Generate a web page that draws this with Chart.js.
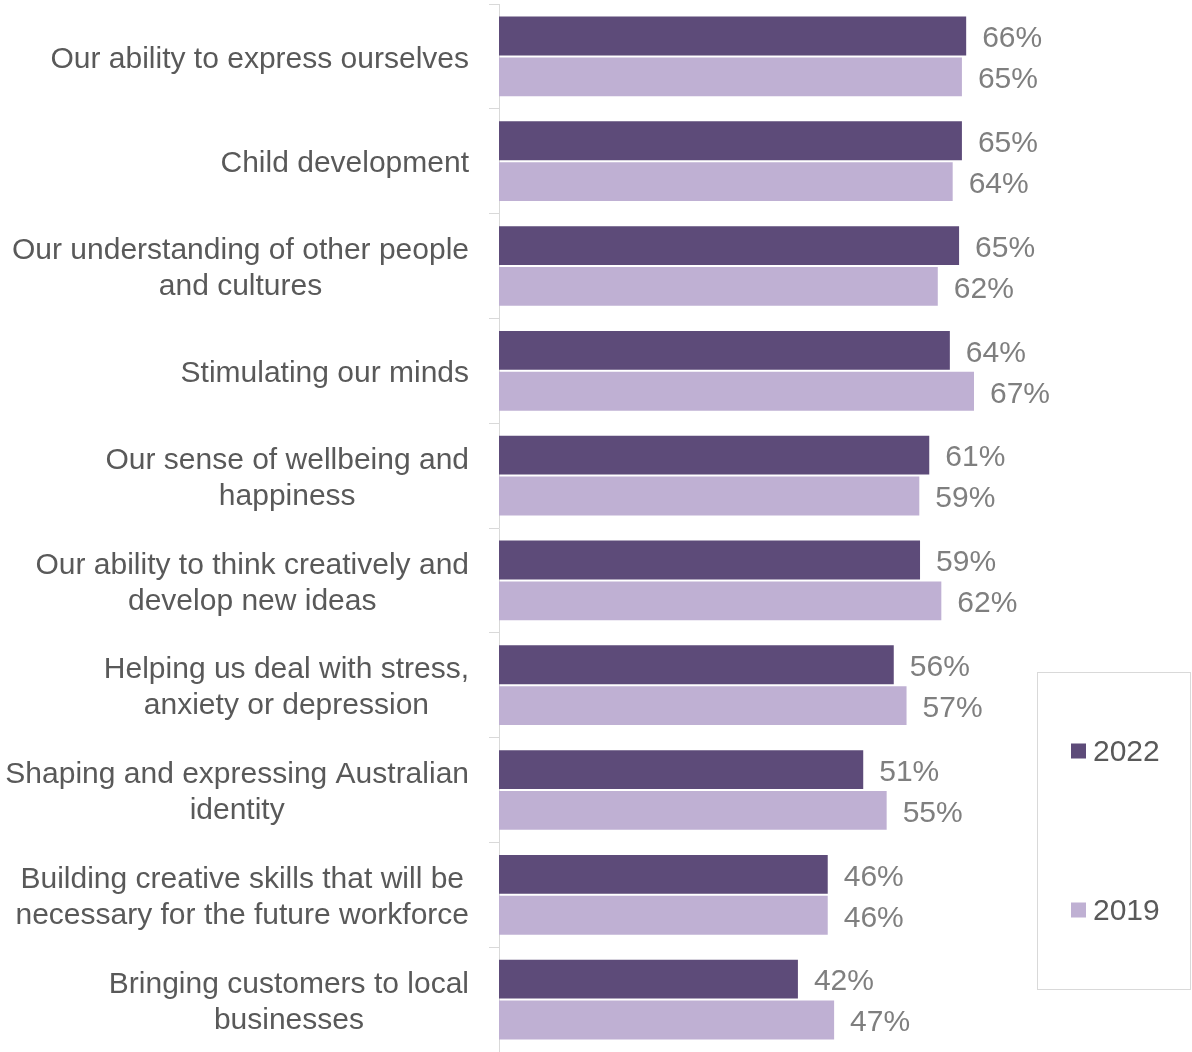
<!DOCTYPE html>
<html>
<head>
<meta charset="utf-8">
<script src="https://cdn.jsdelivr.net/npm/chart.js@4/dist/chart.umd.min.js"></script>
<style>
  html, body { margin: 0; padding: 0; background: #ffffff; }
  #wrap { position: relative; width: 1192px; height: 1052px; }
</style>
</head>
<body>
<div id="wrap"><canvas id="c" width="1192" height="1052"></canvas></div>
<script>
const categories = [
  ["Our ability to express ourselves"],
  ["Child development"],
  ["Our understanding of other people", "and cultures"],
  ["Stimulating our minds"],
  ["Our sense of wellbeing and", "happiness"],
  ["Our ability to think creatively and", "develop new ideas"],
  ["Helping us deal with stress,", "anxiety or depression"],
  ["Shaping and expressing Australian", "identity"],
  ["Building creative skills that will be", "necessary for the future workforce"],
  ["Bringing customers to local", "businesses"]
];
const seriesNames = ["2022", "2019"];
const values2022 = [65.8, 65.2, 64.8, 63.5, 60.6, 59.3, 55.6, 51.3, 46.3, 42.1];
const values2019 = [65.2, 63.9, 61.8, 66.9, 59.2, 62.3, 57.4, 54.6, 46.3, 47.2];
const seriesColors = ["#5d4b79", "#bfb0d3"];

const FONT = "'Liberation Sans', Arial, sans-serif";
const FS = 30;

const catLabelPlugin = {
  id: 'catLabels',
  afterDraw(chart) {
    const ctx = chart.ctx;
    const y = chart.scales.y;
    ctx.save();
    ctx.font = FS + "px " + FONT;
    ctx.fillStyle = "#595959";
    ctx.textBaseline = "middle";
    ctx.textAlign = "center";
    const lh = 36;
    chart.data.labels.forEach((lab, i) => {
      const lines = Array.isArray(lab) ? lab : [lab];
      const w = Math.max(...lines.map(l => ctx.measureText(l).width));
      const cx = 469 - w / 2;
      const cy = y.getPixelForTick(i) + 3;
      const start = cy - (lines.length - 1) * lh / 2;
      lines.forEach((l, k) => ctx.fillText(l, cx, start + k * lh));
    });
    ctx.restore();
  }
};

const valueLabelPlugin = {
  id: 'valueLabels',
  afterDatasetsDraw(chart) {
    const ctx = chart.ctx;
    ctx.save();
    ctx.font = FS + "px " + FONT;
    ctx.fillStyle = "#7f7f7f";
    ctx.textBaseline = "middle";
    ctx.textAlign = "left";
    chart.data.datasets.forEach((ds, di) => {
      const meta = chart.getDatasetMeta(di);
      meta.data.forEach((bar, i) => {
        ctx.fillText(Math.round(ds.data[i]) + "%", bar.x + 16, bar.y + 3);
      });
    });
    ctx.restore();
  }
};

const legendPlugin = {
  id: 'boxLegend',
  afterDraw(chart) {
    const ctx = chart.ctx;
    ctx.save();
    ctx.strokeStyle = "#d9d9d9";
    ctx.lineWidth = 1;
    ctx.strokeRect(1037.5, 672.5, 153, 317);
    ctx.font = FS + "px " + FONT;
    ctx.textBaseline = "middle";
    ctx.textAlign = "left";
    const ys = [751, 910];
    chart.data.datasets.forEach((ds, i) => {
      ctx.fillStyle = ds.backgroundColor;
      ctx.fillRect(1071, ys[i] - 7.5, 15, 15);
      ctx.fillStyle = "#595959";
      ctx.fillText(ds.label, 1093, ys[i] + 2);
    });
    ctx.restore();
  }
};

new Chart(document.getElementById('c'), {
  type: 'bar',
  data: {
    labels: categories,
    datasets: [
      { label: seriesNames[0], data: values2022, backgroundColor: seriesColors[0], borderWidth: 0 },
      { label: seriesNames[1], data: values2019, backgroundColor: seriesColors[1], borderWidth: 0 }
    ]
  },
  options: {
    indexAxis: 'y',
    responsive: false,
    animation: false,
    devicePixelRatio: 1,
    layout: { padding: { top: 4, bottom: 0, left: 0, right: 125 } },
    categoryPercentage: 0.78,
    barPercentage: 0.95,
    plugins: { legend: { display: false }, tooltip: { enabled: false } },
    scales: {
      x: { display: false, min: 0, max: 80 },
      y: {
        offset: true,
        grid: { display: true, drawOnChartArea: false, drawTicks: true, tickLength: 10, offset: true, color: "#d9d9d9", lineWidth: 1 },
        border: { display: true, color: "#d9d9d9", width: 1 },
        ticks: { display: false },
        afterFit(scale) { scale.width = 499; scale.paddingTop = 0; scale.paddingBottom = 0; }
      }
    }
  },
  plugins: [catLabelPlugin, valueLabelPlugin, legendPlugin]
});
</script>
</body>
</html>
